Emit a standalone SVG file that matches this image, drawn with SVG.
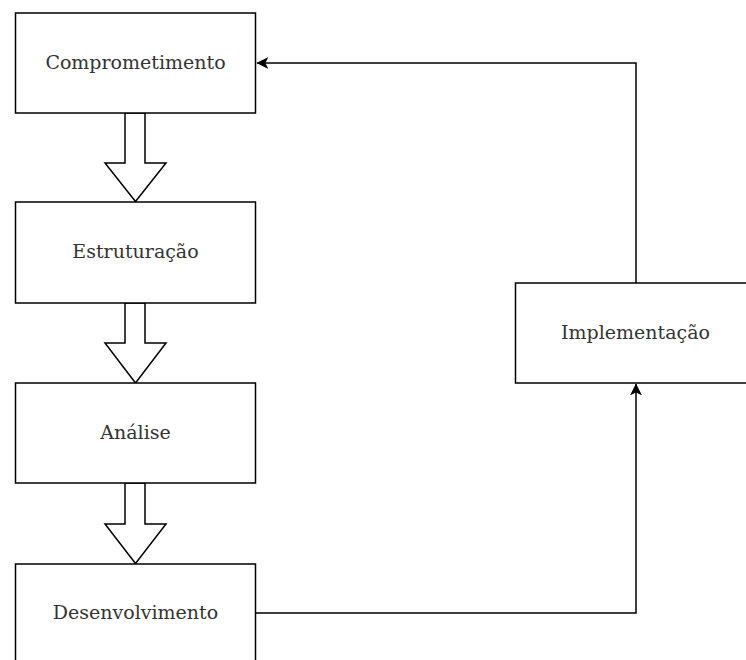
<svg xmlns="http://www.w3.org/2000/svg" width="746" height="660" viewBox="0 0 746 660">
  <style>
    .box { fill: #ffffff; stroke: #000000; stroke-width: 1.5; }
    .label { font-family: "DejaVu Serif", serif; font-size: 19px; fill: #333333; text-anchor: middle; }
    .block { fill: #ffffff; stroke: #000000; stroke-width: 1.5; stroke-linejoin: miter; }
    .link { fill: none; stroke: #000000; stroke-width: 1.5; }
  </style>
  <defs>
    <marker id="classic" viewBox="0 0 10 10" refX="9.5" refY="5" markerWidth="12" markerHeight="12" markerUnits="userSpaceOnUse" orient="auto">
      <path d="M0,0 L10,5 L0,10 L2.5,5 Z" fill="#000000"/>
    </marker>
  </defs>
  <rect width="746" height="660" fill="#ffffff"/>

  <!-- flow connectors -->
  <g id="connectors">
    <!-- block arrows between stacked stages -->
    <path class="block" d="M125,113 L145,113 L145,163 L166,163 L135.5,201.5 L105,163 L125,163 Z"/>
    <path class="block" d="M125,303 L145,303 L145,343 L166,343 L135.5,383 L105,343 L125,343 Z"/>
    <path class="block" d="M125,483 L145,483 L145,524 L166,524 L135.5,563.5 L105,524 L125,524 Z"/>
    <!-- Desenvolvimento -> Implementação -->
    <path class="link" d="M256,613 L636,613 L636,384" marker-end="url(#classic)"/>
    <!-- Implementação -> Comprometimento -->
    <path class="link" d="M636,283 L636,63 L257,63" marker-end="url(#classic)"/>
  </g>

  <g id="comprometimento">
    <rect class="box" x="15.5" y="13" width="240" height="100"/>
    <text class="label" x="135.5" y="69">Comprometimento</text>
  </g>
  <g id="estruturacao">
    <rect class="box" x="15.5" y="202" width="240" height="101"/>
    <text class="label" x="135.5" y="258">Estruturação</text>
  </g>
  <g id="analise">
    <rect class="box" x="15.5" y="383" width="240" height="100"/>
    <text class="label" x="135.5" y="439">Análise</text>
  </g>
  <g id="desenvolvimento">
    <rect class="box" x="15.5" y="564" width="240" height="100"/>
    <text class="label" x="135.5" y="619">Desenvolvimento</text>
  </g>
  <g id="implementacao">
    <rect class="box" x="515.5" y="283" width="240" height="100"/>
    <text class="label" x="635.5" y="339">Implementação</text>
  </g>
</svg>
